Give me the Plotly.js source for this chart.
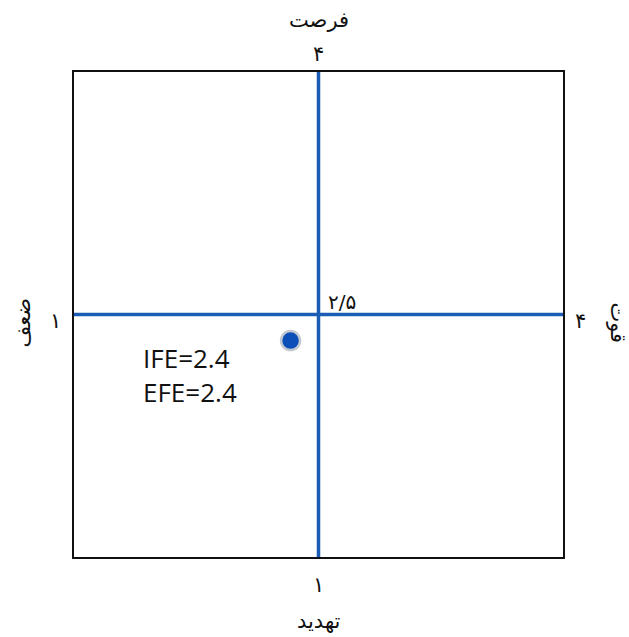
<!DOCTYPE html>
<html>
<head>
<meta charset="utf-8">
<script src="https://cdn.plot.ly/plotly-3.0.1.min.js"></script>
<style>
  html, body { margin:0; padding:0; background:#fff; }
  #chart { width:629px; height:637px; }
</style>
</head>
<body>
<div id="chart"></div>
<script>
(function(){
  'use strict';

  // axis scale (IFE on x, EFE on y)
  const axisRange = [1, 4];
  const axisMid = 2.5;

  // plotted position of the company (as drawn)
  const ifePos = [2.33];
  const efePos = [2.34];
  const scoreLines = ['IFE=2.4', 'EFE=2.4'];

  // end / mid labels (Persian)
  const minLabel = '۱';
  const maxLabel = '۴';
  const midLabel = '۲/۵';
  const sideNames = { top:'فرصت', bottom:'تهدید', left:'ضعف', right:'قوت' };

  const blue = '#1b5db4';
  const fa = 'DejaVu Sans, Noto Sans, sans-serif';

  const point = {
    x: ifePos, y: efePos,
    type: 'scatter', mode: 'markers',
    marker: { size: 19, color: '#0d4fb8', line: { color: '#c3c9d1', width: 2.5 } },
    hoverinfo: 'skip', showlegend: false, cliponaxis: false
  };

  const shapes = [
    { type:'line', xref:'x', yref:'y', x0: axisMid, x1: axisMid, y0: axisRange[0], y1: axisRange[1],
      line:{ color: blue, width: 3.5 }, layer:'below' },
    { type:'line', xref:'x', yref:'y', x0: axisRange[0], x1: axisRange[1], y0: axisMid, y1: axisMid,
      line:{ color: blue, width: 3.5 }, layer:'below' },
    { type:'rect', xref:'x', yref:'y', x0: axisRange[0], x1: axisRange[1], y0: axisRange[0], y1: axisRange[1],
      line:{ color:'#111', width: 4 }, layer:'above' }
  ];

  const ann = (o) => Object.assign({ xref:'x', yref:'y', showarrow:false, font:{ family: fa, size: 21, color:'#111' } }, o);
  const digit = { family: fa, size: 21, color:'#111' };

  const annotations = [
    ann({ x: axisMid, y: axisRange[1], yshift: 16, text: maxLabel, font: digit }),
    ann({ x: axisMid, y: axisRange[1], yshift: 50, text: sideNames.top }),
    ann({ x: axisMid, y: axisRange[0], yshift: -26, text: minLabel, font: digit }),
    ann({ x: axisMid, y: axisRange[0], yshift: -62, text: sideNames.bottom }),
    ann({ x: axisRange[0], y: axisMid, xshift: -17, yshift: -6, text: minLabel, font: digit }),
    ann({ x: axisRange[0], y: axisMid, xshift: -50, yshift: -8, text: sideNames.left, textangle: -90 }),
    ann({ x: axisRange[1], y: axisMid, xshift: 15, yshift: -6, text: maxLabel, font: digit }),
    ann({ x: axisRange[1], y: axisMid, xshift: 53, yshift: -8, text: sideNames.right, textangle: 90 }),
    ann({ x: axisMid, y: axisMid, xanchor:'left', yanchor:'bottom', xshift: 7, yshift: -1, text: midLabel,
          font:{ family: fa, size: 20, color:'#111' } }),
    ann({ x: ifePos[0], y: efePos[0], xanchor:'right', yanchor:'top', xshift: -52, yshift: 3,
          align:'left', text: scoreLines.join('<br>'),
          font:{ family:'Open Sans, Noto Sans, sans-serif', size: 26, color:'#111' } })
  ];

  const axis = { range: axisRange, showgrid:false, zeroline:false, showticklabels:false,
                 ticks:'', showline:false, fixedrange:true };

  const layout = {
    width: 629, height: 637,
    margin: { l: 71.5, r: 64, t: 70, b: 78 },
    paper_bgcolor:'#fff', plot_bgcolor:'#fff',
    xaxis: Object.assign({}, axis),
    yaxis: Object.assign({}, axis),
    shapes, annotations, showlegend:false
  };

  Plotly.newPlot('chart', [point], layout, { displayModeBar:false, staticPlot:true });
})();
</script>
</body>
</html>
